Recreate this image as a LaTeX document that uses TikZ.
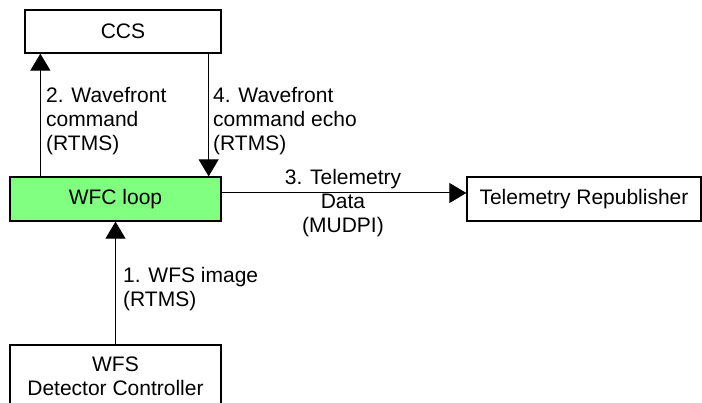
\documentclass[tikz,border=0pt]{standalone}
\usepackage{fontspec}
\setmainfont{Liberation Sans}
\usetikzlibrary{arrows.meta,positioning,calc}
\definecolor{loopgreen}{RGB}{128,255,128}
\tikzset{
	blk/.style={draw,line width=1.3pt,inner sep=0pt,align=center},
	flow/.style={line width=1pt,-{Triangle[width=20pt,length=17pt]}},
	lbl/.style={inner sep=2pt,anchor=west,align=left}
}
\begin{document}
\begin{tikzpicture}[x=1pt,y=-1pt,font=\fontsize{21}{24}\selectfont]
		\useasboundingbox (0,0) rectangle (702,403);
		\node[blk,minimum width=196pt,minimum height=43pt] (ccs) at (123,31.5) {CCS};
		\node[blk,fill=loopgreen,minimum width=211pt,minimum height=44pt] (wfc) at (115.5,199) {WFC loop};
		\node[blk,minimum width=234pt,minimum height=44pt] (tel) at (584,199) {Telemetry Republisher};
		\node[blk,minimum width=211pt,minimum height=62pt] (wfs) at (115.5,376) {WFS\\Detector Controller};
		\draw[flow] ([xshift=31pt]wfc.north west) -- ([xshift=31pt]wfc.north west |- ccs.south);
		\draw[flow] ([xshift=-13pt]ccs.south east) -- ([xshift=-13pt]ccs.south east |- wfc.north);
		\draw[flow] ([yshift=6pt]wfc.east) -- ([yshift=6pt]wfc.east -| tel.west);
		\draw[flow] (wfs.north) -- (wfc.south);
		\node[lbl] (l2) at (44,121) {2. Wavefront\\command\\(RTMS)};
		\node[lbl] (l4) at (211,121) {4. Wavefront\\command echo\\(RTMS)};
		\node[align=center,inner sep=0pt] (l3) at (343,203.5) {3. Telemetry\\Data\\(MUDPI)};
		\node[lbl] (l1) at (121,289.5) {1. WFS image\\(RTMS)};
\end{tikzpicture}
\end{document}
